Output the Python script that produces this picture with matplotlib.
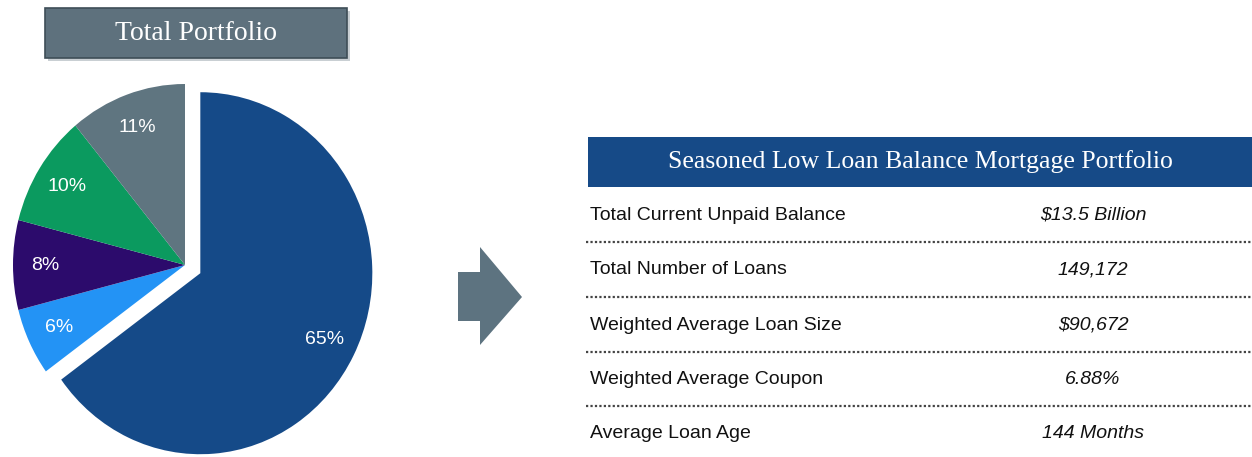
import numpy as np
import matplotlib
matplotlib.use("Agg")
import matplotlib.pyplot as plt
from matplotlib.patches import Rectangle, Polygon

# pie data (clockwise from 12 o'clock)
shares = [65, 6, 8, 10, 11]
slice_colors = ["#154a88", "#2393f5", "#2c0b6c", "#0b9a5f", "#5f7580"]
explode = [0.1, 0, 0, 0, 0]

# table data
row_labels = ["Total Current Unpaid Balance", "Total Number of Loans",
              "Weighted Average Loan Size", "Weighted Average Coupon",
              "Average Loan Age"]
row_values = ["$13.5 Billion", "149,172", "$90,672", "6.88%", "144 Months"]

pie_title = "Total Portfolio"
table_title = "Seasoned Low Loan Balance Mortgage Portfolio"

W, H = 1252, 457
fig = plt.figure(figsize=(W / 100, H / 100), dpi=100)
fig.patch.set_facecolor("white")

# overlay axes in pixel coordinates
bg = fig.add_axes([0, 0, 1, 1])
bg.set_xlim(0, W)
bg.set_ylim(H, 0)
bg.axis("off")

# pie axes: centre of small slices at (185, 265) px; the pie is slightly squeezed sideways
px_left, px_right, px_top, px_bot = 0, 400, 60, 457
cx, cy, rx, ry = 185, 265, 172, 181
pie_ax = fig.add_axes([px_left / W, 1 - px_bot / H,
                       (px_right - px_left) / W, (px_bot - px_top) / H])
wedges, texts, autotexts = pie_ax.pie(
    shares, colors=slice_colors, explode=explode, startangle=90,
    counterclock=False, autopct=lambda p: f"{p:.0f}%", pctdistance=0.81,
    wedgeprops=dict(linewidth=0), textprops=dict(color="white", fontsize=14,
                                                 family="Liberation Sans"))
pie_ax.set_xlim((px_left - cx) / rx, (px_right - cx) / rx)
pie_ax.set_ylim((cy - px_bot) / ry, (cy - px_top) / ry)
pie_ax.set_aspect("auto")
pie_ax.axis("off")

# title box over the pie
bg.add_patch(Rectangle((48, 11), 302, 50, facecolor="#c9cfd3", edgecolor="none", zorder=1))
bg.add_patch(Rectangle((45, 8), 302, 50, facecolor="#5e717d", edgecolor="#3e4e57",
                       linewidth=1.2, zorder=2))
bg.text(196, 33, pie_title, color="white", fontsize=20, family="Liberation Serif",
        ha="center", va="center", zorder=3)

# arrow
arrow = [(458, 272), (480, 272), (480, 247), (522, 297), (480, 345), (480, 321), (458, 321)]
bg.add_patch(Polygon(arrow, closed=True, facecolor="#5d7380", edgecolor="none"))

# table header
bg.add_patch(Rectangle((588, 137), W - 588, 50, facecolor="#164a87", edgecolor="none"))
bg.text(920, 162, table_title, color="white", fontsize=18.5, family="Liberation Serif",
        ha="center", va="center")

row_y = [215, 270, 325, 379, 434]
for i, (lab, val) in enumerate(zip(row_labels, row_values)):
    y = row_y[i]
    bg.text(590, y, lab, fontsize=14, family="Liberation Sans", color="#111111",
            ha="left", va="center")
    bg.text(1093, y, val, fontsize=14, family="Liberation Sans", color="#111111",
            style="italic", ha="center", va="center")
    if i < len(row_labels) - 1:
        bg.plot([586, W], [y + 27, y + 27], color="#444444", linewidth=1.6,
                linestyle=(0, (1, 1)))

fig.savefig("out.png", dpi=100)
